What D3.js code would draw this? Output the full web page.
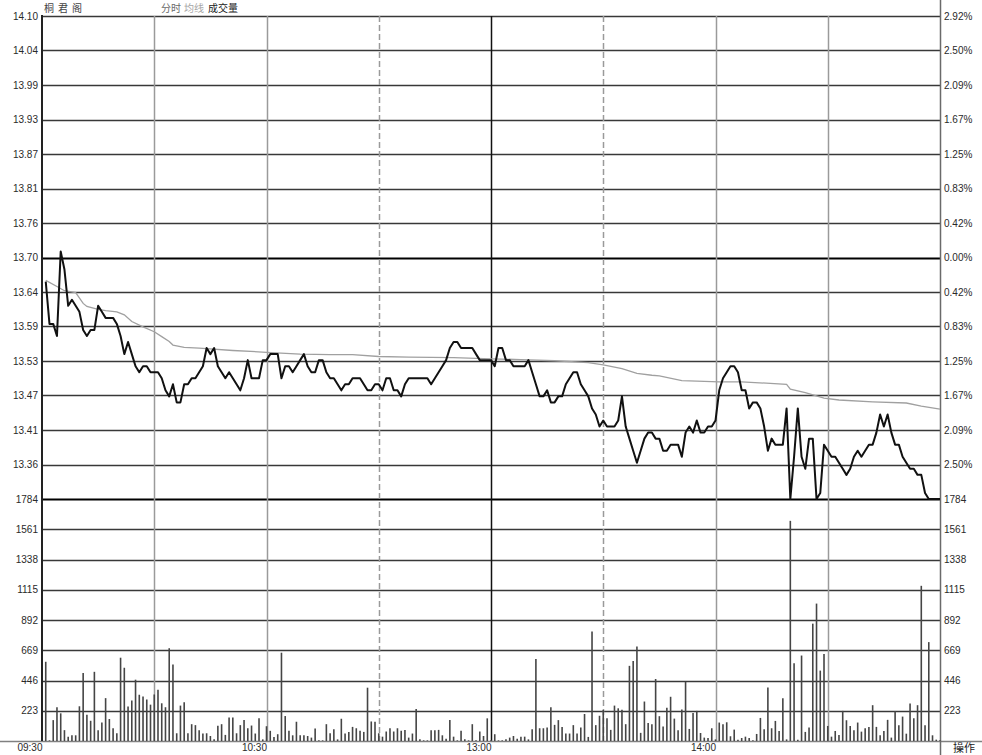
<!DOCTYPE html>
<html>
<head>
<meta charset="utf-8">
<script src="https://cdn.jsdelivr.net/npm/d3@7"></script>
<style>
  html, body { margin: 0; padding: 0; background: #fff; }
  svg { display: block; font-family: "Liberation Sans", Arial, sans-serif; }
</style>
</head>
<body>
<svg id="chart" width="982" height="755"></svg>
<script>
// ---------------- DATA ----------------
const stockName = "桐君阁";
const legendLabels = ["分时", "均线", "成交量"];
const prevClose = 13.70;
const priceTickLabels = ["14.10","14.04","13.99","13.93","13.87","13.81","13.76","13.70","13.64","13.59","13.53","13.47","13.41","13.36"];
const pctTickLabels = ["2.92%","2.50%","2.09%","1.67%","1.25%","0.83%","0.42%","0.00%","0.42%","0.83%","1.25%","1.67%","2.09%","2.50%"];
const volTickValues = [1784, 1561, 1338, 1115, 892, 669, 446, 223];
const timeLabels = ["09:30", "10:30", "13:00", "14:00"];
const timeLabelMinutes = [0, 60, 120, 180];
const cornerLabel = "操作";

// minute-by-minute price (09:31 .. 15:00)
const prices = [
  13.66,13.59,13.59,13.57,13.71,13.68,13.62,13.63,13.62,13.61,
  13.58,13.57,13.58,13.58,13.62,13.61,13.60,13.60,13.60,13.59,
  13.57,13.54,13.56,13.54,13.52,13.51,13.52,13.52,13.51,13.51,
  13.51,13.50,13.48,13.47,13.49,13.46,13.46,13.49,13.49,13.50,
  13.50,13.51,13.52,13.55,13.54,13.55,13.52,13.51,13.50,13.51,
  13.50,13.49,13.48,13.50,13.53,13.50,13.50,13.50,13.53,13.53,
  13.54,13.54,13.54,13.50,13.52,13.52,13.51,13.52,13.53,13.54,
  13.52,13.51,13.51,13.53,13.53,13.51,13.50,13.50,13.49,13.48,
  13.49,13.49,13.50,13.50,13.50,13.49,13.48,13.48,13.49,13.49,
  13.48,13.50,13.50,13.48,13.48,13.47,13.49,13.50,13.50,13.50,
  13.50,13.50,13.50,13.49,13.50,13.51,13.52,13.53,13.55,13.56,
  13.56,13.55,13.55,13.55,13.55,13.54,13.53,13.53,13.53,13.53,
  13.52,13.55,13.55,13.53,13.53,13.52,13.52,13.52,13.52,13.53,
  13.51,13.49,13.47,13.47,13.48,13.46,13.46,13.47,13.47,13.49,
  13.50,13.51,13.51,13.49,13.48,13.47,13.45,13.44,13.42,13.43,
  13.42,13.42,13.42,13.43,13.47,13.42,13.40,13.38,13.36,13.38,
  13.40,13.41,13.41,13.40,13.40,13.38,13.38,13.39,13.39,13.39,
  13.37,13.41,13.42,13.41,13.43,13.41,13.41,13.42,13.42,13.43,
  13.48,13.50,13.51,13.52,13.52,13.51,13.48,13.48,13.45,13.46,
  13.46,13.45,13.42,13.38,13.40,13.39,13.39,13.39,13.45,13.30,
  13.37,13.45,13.37,13.35,13.40,13.40,13.30,13.31,13.39,13.38,
  13.37,13.37,13.36,13.35,13.34,13.35,13.37,13.38,13.37,13.38,
  13.39,13.39,13.41,13.44,13.42,13.44,13.41,13.39,13.39,13.37,
  13.36,13.35,13.35,13.34,13.34,13.31,13.30,13.30,13.30,13.30
];

// average price line, read at these minute indexes
const avgIndex = [0,3,5,8,10,11,14,16,19,21,23,26,29,31,33,34,37,41,50,59,68,76,82,89,97,109,119,127,136,145,149,154,158,162,164,170,180,186,198,199,203,208,212,221,230,234,239];
const avgPrices = [13.662,13.652,13.645,13.642,13.624,13.619,13.614,13.612,13.610,13.605,13.594,13.585,13.577,13.569,13.561,13.555,13.551,13.550,13.546,13.543,13.540,13.539,13.539,13.536,13.535,13.534,13.532,13.531,13.529,13.526,13.522,13.516,13.508,13.505,13.504,13.496,13.494,13.494,13.490,13.482,13.476,13.467,13.464,13.461,13.459,13.454,13.449];

// minute-by-minute volume
const volumes = [
  584,5,154,249,204,80,32,42,42,256,
  502,194,149,510,80,137,316,162,94,57,
  614,540,254,298,452,341,328,306,268,343,
  378,278,249,684,564,57,261,286,57,124,
  117,80,55,57,37,12,112,124,45,174,
  174,57,117,154,94,114,55,167,12,109,
  75,30,50,651,184,75,42,142,42,42,
  37,25,92,5,5,124,57,87,12,164,
  55,67,104,94,75,67,393,144,142,57,
  32,70,94,70,94,75,82,25,55,236,
  12,5,5,80,80,82,42,17,154,32,
  5,75,12,5,124,5,70,37,167,5,
  50,5,5,12,25,37,17,32,32,12,
  87,604,94,94,99,249,119,154,104,55,
  55,117,55,99,199,30,808,117,186,229,
  167,82,261,241,231,124,554,589,696,60,
  291,133,124,457,183,106,245,326,165,79,
  232,435,89,207,222,59,25,22,94,12,
  136,124,138,35,84,10,22,32,22,5,
  52,170,86,395,94,148,74,316,12,1623,
  573,10,630,67,99,865,1013,519,642,111,
  32,74,44,222,153,111,79,136,69,94,
  104,264,104,42,74,156,25,222,116,180,
  54,277,168,264,1144,116,729,42,10,5
];

// ---------------- LAYOUT ----------------
const L = 42, R = 940, T = 16, MID = 499, B = 741;
const svg = d3.select("#chart");
svg.append("rect").attr("width", 982).attr("height", 755).attr("fill", "#fff");

const x = d3.scaleLinear().domain([0, 240]).range([L, R]);
const step = 0.4 / 7;
const yP = d3.scaleLinear().domain([prevClose - 7 * step, prevClose + 7 * step]).range([MID, T]);
const yV = d3.scaleLinear().domain([0, volTickValues[0]]).range([B, MID]);

const priceTicks = d3.range(7, -7, -1).map(k => prevClose + k * step); // 14 ticks top -> 13.36
const g = svg.append("g");

// horizontal grid - price
priceTicks.forEach((v, i) => {
  const yy = Math.round(yP(v)) + 0.5;
  g.append("line").attr("x1", L).attr("x2", R).attr("y1", yy).attr("y2", yy)
    .attr("stroke", i === 7 ? "#000" : "#383838").attr("stroke-width", i === 7 ? 2 : 1.7);
});
// separation line (price bottom / volume top)
g.append("line").attr("x1", L).attr("x2", R).attr("y1", MID + 0.5).attr("y2", MID + 0.5)
  .attr("stroke", "#000").attr("stroke-width", 2);
// horizontal grid - volume
volTickValues.slice(1).forEach(v => {
  const yy = Math.round(yV(v)) + 0.5;
  g.append("line").attr("x1", L).attr("x2", R).attr("y1", yy).attr("y2", yy)
    .attr("stroke", "#383838").attr("stroke-width", 1.7);
});

// vertical grid
const vMinutes = [30, 60, 90, 120, 150, 180, 210];
vMinutes.forEach(m => {
  const xx = Math.round(x(m)) + 0.5;
  const ln = g.append("line").attr("x1", xx).attr("x2", xx).attr("y1", T).attr("y2", B);
  if (m === 120) ln.attr("stroke", "#111").attr("stroke-width", 1.5);
  else if (m === 90 || m === 150) ln.attr("stroke", "#9a9a9a").attr("stroke-width", 1.5).attr("stroke-dasharray", "6,3");
  else ln.attr("stroke", "#9a9a9a").attr("stroke-width", 1.5);
});

// baseline and frame
g.append("line").attr("x1", 0).attr("x2", 982).attr("y1", B + 0.5).attr("y2", B + 0.5)
  .attr("stroke", "#808080").attr("stroke-width", 1.5);
g.append("line").attr("x1", L).attr("x2", L).attr("y1", T - 1).attr("y2", B)
  .attr("stroke", "#222").attr("stroke-width", 2);
g.append("line").attr("x1", R + 0.5).attr("x2", R + 0.5).attr("y1", 0).attr("y2", 755)
  .attr("stroke", "#6a6a6a").attr("stroke-width", 1.5);

// volume bars
svg.append("g").selectAll("line").data(volumes).join("line")
  .attr("x1", (d, i) => x(i + 1)).attr("x2", (d, i) => x(i + 1))
  .attr("y1", yV(0)).attr("y2", d => yV(d))
  .attr("stroke", "#454545").attr("stroke-width", 1.6);

// average line
const avgPts = avgIndex.map((m, k) => [m, avgPrices[k]]);
svg.append("path").datum(avgPts)
  .attr("d", d3.line().x(d => x(d[0] + 1)).y(d => yP(d[1])))
  .attr("fill", "none").attr("stroke", "#a0a0a0").attr("stroke-width", 1.3);

// price line
svg.append("path").datum(prices)
  .attr("d", d3.line().x((d, i) => x(i + 1)).y(d => yP(d)))
  .attr("fill", "none").attr("stroke", "#111").attr("stroke-width", 2)
  .attr("stroke-linejoin", "round");

// axes (labels only)
function styleAxis(sel) {
  sel.select(".domain").remove();
  sel.selectAll("text").attr("fill", "#2a2a2a").style("font-size", "10px")
    .style("font-family", "'Liberation Sans', Arial, sans-serif");
}
const leftPrice = d3.axisLeft(yP).tickValues(priceTicks).tickSize(0).tickPadding(4)
  .tickFormat((d, i) => priceTickLabels[i]);
svg.append("g").attr("transform", `translate(${L},0)`).call(leftPrice).call(styleAxis);
const rightPct = d3.axisRight(yP).tickValues(priceTicks).tickSize(0).tickPadding(4)
  .tickFormat((d, i) => pctTickLabels[i]);
svg.append("g").attr("transform", `translate(${R},0)`).call(rightPct).call(styleAxis);
const leftVol = d3.axisLeft(yV).tickValues(volTickValues).tickSize(0).tickPadding(4)
  .tickFormat(d3.format("d"));
svg.append("g").attr("transform", `translate(${L},0)`).call(leftVol).call(styleAxis);
const rightVol = d3.axisRight(yV).tickValues(volTickValues).tickSize(0).tickPadding(4)
  .tickFormat(d3.format("d"));
svg.append("g").attr("transform", `translate(${R},0)`).call(rightVol).call(styleAxis);

// time axis
const timeAxis = d3.axisBottom(x).tickValues(timeLabelMinutes).tickSize(0).tickPadding(3)
  .tickFormat((d, i) => timeLabels[i]);
svg.append("g").attr("transform", `translate(0,${B})`).call(timeAxis).call(styleAxis)
  .selectAll("text").attr("text-anchor", "end").attr("dx", "0");

// corner label
svg.append("text").attr("x", 953).attr("y", 752).text(cornerLabel)
  .attr("fill", "#222").style("font-size", "11px").style("font-family", "'Noto Sans CJK SC', sans-serif");

// header
svg.append("text").attr("x", 44).attr("y", 12).text(stockName)
  .attr("fill", "#444").style("font-size", "10px").style("letter-spacing", "4px")
  .style("font-family", "'Noto Sans CJK SC', sans-serif");
const legendX = [161, 184, 208];
const legendColors = ["#6a6a6a", "#a5a5a5", "#222"];
legendLabels.forEach((t, i) => {
  svg.append("text").attr("x", legendX[i]).attr("y", 12).text(t)
    .attr("fill", legendColors[i]).style("font-size", "10px")
    .style("font-family", "'Noto Sans CJK SC', sans-serif");
});
</script>
</body>
</html>
